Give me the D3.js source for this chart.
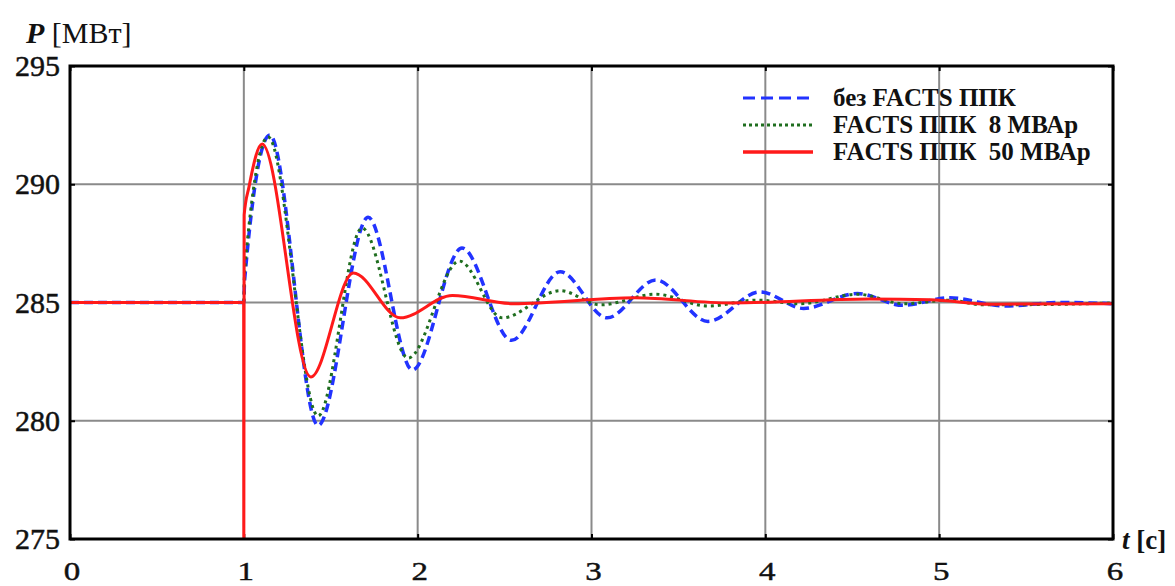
<!DOCTYPE html>
<html>
<head>
<meta charset="utf-8">
<script src="https://cdn.jsdelivr.net/npm/d3@7"></script>
<style>
  html, body { margin: 0; padding: 0; background: #fff; }
  svg text { white-space: pre; }
</style>
</head>
<body>
<svg id="chart" width="1175" height="586"></svg>
<script>
// Active power P [МВт] after a disturbance at t = 1 s
const xTicks = [0, 1, 2, 3, 4, 5, 6];
const yTicks = [275, 280, 285, 290, 295];

// без FACTS ППК
const tNoFacts = [0, 1.0, 1.004, 1.15, 1.427, 1.715, 1.97, 2.255, 2.54, 2.82, 3.09, 3.37, 3.67, 3.97, 4.22, 4.53, 4.79, 5.06, 5.38, 5.7, 6.0];
const pNoFacts = [285, 285, 285.9, 292.08, 279.8, 288.6, 282.15, 287.3, 283.4, 286.3, 284.35, 285.95, 284.2, 285.45, 284.75, 285.38, 284.88, 285.2, 284.85, 285.0, 284.95];

// FACTS ППК 8 МВАр
const tFacts8 = [0, 1.0, 1.004, 1.14, 1.427, 1.68, 1.945, 2.24, 2.486, 2.82, 3.05, 3.37, 3.67, 3.95, 4.2, 4.53, 4.8, 5.06, 5.25, 5.65, 6.0];
const pFacts8 = [285, 285, 286.3, 292.0, 280.2, 288.15, 282.65, 286.75, 284.35, 285.5, 284.9, 285.35, 284.85, 285.1, 284.95, 285.35, 284.95, 285.1, 284.9, 284.92, 284.98];

// FACTS ППК 50 МВАр
const tFacts50 = [0, 0.999, 1.0, 1.002, 1.03, 1.105, 1.385, 1.63, 1.90, 2.20, 2.55, 3.25, 3.8, 4.6, 4.95, 5.3, 6.0];
const pFacts50 = [285, 285, 275, 288.7, 289.9, 291.7, 281.85, 286.25, 284.35, 285.3, 284.95, 285.2, 284.98, 285.15, 285.12, 284.93, 284.95];

const seriesNames = ["без FACTS ППК", "FACTS ППК  8 МВАр", "FACTS ППК  50 МВАр"];
const seriesColors = ["#2233ff", "#1f6e1f", "#ff1a1a"];
const SERIF = "'Liberation Serif', 'Times New Roman', serif";

const svg = d3.select("#chart");
const m = { left: 70, right: 1113, top: 66, bottom: 539 };

const x = d3.scaleLinear().domain([0, 6]).range([m.left, m.right]);
const y = d3.scaleLinear().domain([275, 295]).range([m.bottom, m.top]);

// grid
const grid = svg.append("g");
grid.selectAll(".gx").data(xTicks.slice(1, -1)).join("line")
  .attr("x1", d => x(d)).attr("x2", d => x(d))
  .attr("y1", m.top).attr("y2", m.bottom)
  .attr("stroke", "#8a8a8a").attr("stroke-width", 2);
grid.selectAll(".gy").data(yTicks.slice(1, -1)).join("line")
  .attr("x1", m.left).attr("x2", m.right)
  .attr("y1", d => y(d)).attr("y2", d => y(d))
  .attr("stroke", "#8a8a8a").attr("stroke-width", 2);

// axes with inward ticks on all four sides
const axB = d3.axisBottom(x).tickValues(xTicks).tickSize(-5).tickFormat("");
const axT = d3.axisTop(x).tickValues(xTicks).tickSize(-5).tickFormat("");
const axL = d3.axisLeft(y).tickValues(yTicks).tickSize(-5).tickFormat("");
const axR = d3.axisRight(y).tickValues(yTicks).tickSize(-5).tickFormat("");
[[axB, `translate(0,${m.bottom})`], [axT, `translate(0,${m.top})`],
 [axL, `translate(${m.left},0)`], [axR, `translate(${m.right},0)`]].forEach(([ax, tr]) => {
  const g = svg.append("g").attr("transform", tr).call(ax);
  g.select(".domain").remove();
  g.selectAll(".tick line").attr("stroke", "#000").attr("stroke-width", 2);
});

// clipped plotting area
svg.append("clipPath").attr("id", "clip").append("rect")
  .attr("x", m.left).attr("y", m.top - 2)
  .attr("width", m.right - m.left).attr("height", m.bottom - m.top + 2);

const line = d3.line().x(d => x(d[0])).y(d => y(d[1])).curve(d3.curveMonotoneX);
const plot = svg.append("g").attr("clip-path", "url(#clip)");

const data = [d3.zip(tNoFacts, pNoFacts), d3.zip(tFacts8, pFacts8), d3.zip(tFacts50, pFacts50)];
const dashes = ["9,5", "3,4", null];
const widths = [3.5, 3, 3];

data.forEach((d, i) => {
  plot.append("path").datum(d)
    .attr("d", line)
    .attr("fill", "none")
    .attr("stroke", seriesColors[i])
    .attr("stroke-width", widths[i])
    .attr("stroke-dasharray", dashes[i])
    .attr("stroke-linejoin", "round");
});

// frame
svg.append("rect")
  .attr("x", m.left).attr("y", m.top)
  .attr("width", m.right - m.left).attr("height", m.bottom - m.top)
  .attr("fill", "none").attr("stroke", "#000").attr("stroke-width", 3);

// tick labels
svg.append("g").selectAll("text").data(yTicks).join("text")
  .attr("x", m.left - 10).attr("y", d => y(d) + 10)
  .attr("text-anchor", "end")
  .attr("font-family", SERIF)
  .attr("font-size", 30)
  .attr("fill", "#111").attr("stroke", "#111").attr("stroke-width", 0.5)
  .text(d => d);

svg.append("g").selectAll("text").data(xTicks).join("text")
  .attr("transform", d => `translate(${x(d) + 2},580) scale(1.1,0.85)`)
  .attr("text-anchor", "middle")
  .attr("font-family", SERIF)
  .attr("font-size", 30)
  .attr("fill", "#111").attr("stroke", "#111").attr("stroke-width", 0.5)
  .text(d => d);

// axis titles
const yTitle = svg.append("text").attr("x", 26).attr("y", 43)
  .attr("font-family", SERIF).attr("font-size", 30).attr("fill", "#111");
yTitle.append("tspan").attr("font-style", "italic").attr("font-weight", "bold").text("P");
yTitle.append("tspan").text(" [МВт]");

const xTitle = svg.append("text").attr("x", 1122).attr("y", 549)
  .attr("font-family", SERIF).attr("font-size", 27).attr("fill", "#111");
xTitle.append("tspan").attr("font-style", "italic").attr("font-weight", "bold").text("t");
xTitle.append("tspan").attr("font-weight", "bold").text(" [c]");

// legend
const legend = svg.append("g");
const rowY = [98, 125, 152];
seriesNames.forEach((name, i) => {
  legend.append("line")
    .attr("x1", 743).attr("x2", 813)
    .attr("y1", rowY[i]).attr("y2", rowY[i])
    .attr("stroke", seriesColors[i])
    .attr("stroke-width", i === 2 ? 3.5 : 3)
    .attr("stroke-dasharray", i === 0 ? "12,6" : i === 1 ? "3,3" : null);
  legend.append("text")
    .attr("x", 833).attr("y", rowY[i] + 8)
    .attr("font-family", SERIF)
    .attr("font-size", 25).attr("font-weight", "bold")
    .attr("fill", "#111")
    .text(name);
});
</script>
</body>
</html>
